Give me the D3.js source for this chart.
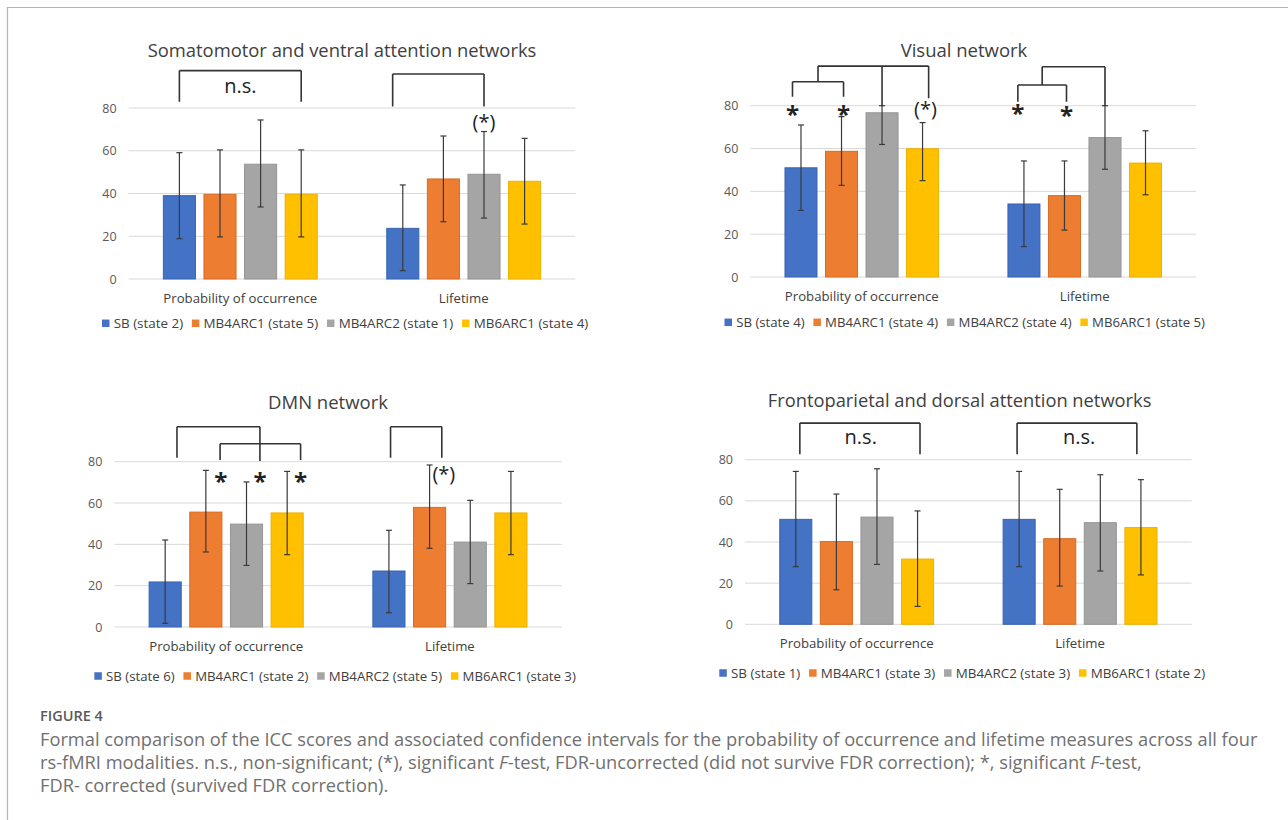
<!DOCTYPE html>
<html><head><meta charset="utf-8">
<script src="https://cdn.jsdelivr.net/npm/d3@7/dist/d3.min.js"></script>
<style>body{margin:0;background:#fff}svg{display:block}</style>
</head><body>
<svg id="chart" width="1288" height="820"></svg>
<script>
// ---------------- DATA ----------------
const categories = ["Probability of occurrence", "Lifetime"];
const yTicks = [0, 20, 40, 60, 80];
const seriesColors = ["#4472C4", "#ED7D31", "#A5A5A5", "#FFC000"];

const smTitle = "Somatomotor and ventral attention networks";
const smSeries = ["SB (state 2)", "MB4ARC1 (state 5)", "MB4ARC2 (state 1)", "MB6ARC1 (state 4)"];
const smValues = [[39, 39.6, 53.7, 39.6], [23.7, 46.8, 49, 45.7]];
const smLow    = [[18.9, 19.7, 33.7, 19.7], [3.9, 26.8, 28.5, 25.7]];
const smHigh   = [[59.1, 60.4, 74.4, 60.4], [44, 66.9, 69, 65.8]];
const smBrackets = [
  {cat: 0, legs: [[0, 82.9], [3, 82.9]], top: 97.5},
  {cat: 1, legs: [[-0.25, 80.7], [2, 80.7]], top: 95.9}
];
const smMarks = [
  {cat: 0, x: 1.5, y: 89.2, text: "n.s."},
  {cat: 1, x: 2, y: 73.1, text: "(*)"}
];

const visTitle = "Visual network";
const visSeries = ["SB (state 4)", "MB4ARC1 (state 4)", "MB4ARC2 (state 4)", "MB6ARC1 (state 5)"];
const visValues = [[51, 58.7, 76.7, 59.9], [34.1, 38, 65.1, 53.2]];
const visLow    = [[31.1, 42.8, 61.9, 45], [14.2, 21.9, 50.3, 38.4]];
const visHigh   = [[71, 74.9, 80, 72.1], [54.2, 54.2, 80, 68.3]];
const visBrackets = [
  {cat: 0, legs: [[-0.21, 84.2], [1.05, 84.2]], top: 91.2},
  {cat: 0, legs: [[0.42, 91.2], [2, 80], [3.15, 83.5]], top: 98.5},
  {cat: 1, legs: [[-0.15, 81.9], [1.05, 81.9]], top: 89.7},
  {cat: 1, legs: [[0.45, 89.7], [2, 80]], top: 98.2}
];
const visMarks = [
  {cat: 0, x: -0.21, y: 78.8, text: "*"},
  {cat: 0, x: 1.05, y: 78.8, text: "*"},
  {cat: 0, x: 3.07, y: 78, text: "(*)"},
  {cat: 1, x: -0.15, y: 78.9, text: "*"},
  {cat: 1, x: 1.05, y: 78, text: "*"}
];

const dmnTitle = "DMN network";
const dmnSeries = ["SB (state 6)", "MB4ARC1 (state 2)", "MB4ARC2 (state 5)", "MB6ARC1 (state 3)"];
const dmnValues = [[21.8, 55.6, 49.8, 55.2], [27.1, 57.9, 41.1, 55.2]];
const dmnLow    = [[1.8, 36.3, 29.8, 35], [6.9, 38.1, 21, 35]];
const dmnHigh   = [[42.1, 75.8, 70.2, 75.3], [46.8, 78.4, 61.3, 75.3]];
const dmnBrackets = [
  {cat: 0, legs: [[0.29, 81.9], [2.33, 80.3]], top: 96.9},
  {cat: 0, legs: [[1.35, 80.8], [3.33, 80.8]], top: 88.7},
  {cat: 1, legs: [[0.04, 81.9], [1.3, 81.9]], top: 96.9}
];
const dmnMarks = [
  {cat: 0, x: 1.37, y: 73.2, text: "*"},
  {cat: 0, x: 2.33, y: 73.2, text: "*"},
  {cat: 0, x: 3.33, y: 73.2, text: "*"},
  {cat: 1, x: 1.35, y: 73.6, text: "(*)"}
];

const fpTitle = "Frontoparietal and dorsal attention networks";
const fpSeries = ["SB (state 1)", "MB4ARC1 (state 3)", "MB4ARC2 (state 3)", "MB6ARC1 (state 2)"];
const fpValues = [[51, 40.2, 52.1, 31.7], [51, 41.6, 49.4, 47]];
const fpLow    = [[28, 16.8, 29.1, 8.7], [28, 18.6, 25.9, 24]];
const fpHigh   = [[74.3, 63.3, 75.6, 55.1], [74.3, 65.6, 72.7, 70.3]];
const fpBrackets = [
  {cat: 0, legs: [[0.1, 82.6], [3.06, 82.6]], top: 97.8},
  {cat: 1, legs: [[-0.05, 82.6], [2.9, 82.6]], top: 97.8}
];
const fpMarks = [
  {cat: 0, x: 1.6, y: 89.6, text: "n.s."},
  {cat: 1, x: 1.48, y: 89.6, text: "n.s."}
];

const captionLabel = "FIGURE 4";
const captionLines = [
  [["Formal comparison of the ICC scores and associated confidence intervals for the probability of occurrence and lifetime measures across all four", false]],
  [["rs-fMRI modalities. n.s., non-significant; (*), significant ", false], ["F", true], ["-test, FDR-uncorrected (did not survive FDR correction); *, significant ", false], ["F", true], ["-test,", false]],
  [["FDR- corrected (survived FDR correction).", false]]
];

// ---------------- LAYOUT ----------------
const FONT = "'Open Sans', 'Noto Sans', sans-serif";
const panels = [
  {title: smTitle, series: smSeries, values: smValues, low: smLow, high: smHigh, brackets: smBrackets, marks: smMarks,
   left: 128.6, width: 446.8, y0: 279, y80: 108, titleX: 342, titleY: 50, titleW: 389, legendCx: 345.3, legendY: 323.3, legendW: 486.6},
  {title: visTitle, series: visSeries, values: visValues, low: visLow, high: visHigh, brackets: visBrackets, marks: visMarks,
   left: 750.3, width: 445.9, y0: 277, y80: 105.7, titleX: 964, titleY: 50.7, titleW: 126.7, legendCx: 965, legendY: 322.3, legendW: 481},
  {title: dmnTitle, series: dmnSeries, values: dmnValues, low: dmnLow, high: dmnHigh, brackets: dmnBrackets, marks: dmnMarks,
   left: 114.3, width: 447.5, y0: 627, y80: 461.7, titleX: 328, titleY: 402, titleW: 120, legendCx: 335.2, legendY: 676, legendW: 481.7},
  {title: fpTitle, series: fpSeries, values: fpValues, low: fpLow, high: fpHigh, brackets: fpBrackets, marks: fpMarks,
   left: 745, width: 446.7, y0: 624.3, y80: 459.7, titleX: 959.6, titleY: 400, titleW: 384, legendCx: 962.4, legendY: 673, legendW: 486.2}
];

const ctx = document.createElement("canvas").getContext("2d");
function measure(txt, size, weight) {
  ctx.font = `${weight || 400} ${size}px "Open Sans"`;
  return ctx.measureText(txt).width;
}
function fitSize(txt, target, weight) { return 100 * target / measure(txt, 100, weight); }

const svg = d3.select("#chart");
// frame
svg.append("path").attr("d", "M7.5,820 V7.5 H1288").attr("fill", "none").attr("stroke", "#b4b4b4").attr("stroke-width", 1.2);

const catSize = fitSize(categories[0], 154);
const textCol = "#404040";

panels.forEach(p => {
  const g = svg.append("g");
  const x0 = d3.scaleBand().domain(d3.range(categories.length)).range([p.left, p.left + p.width]);
  const gfrac = 0.727;
  const bw = x0.bandwidth();
  const x1 = d3.scaleBand().domain(d3.range(p.series.length))
    .range([bw * (1 - gfrac) / 2, bw * (1 + gfrac) / 2]).paddingInner(0.21).paddingOuter(0.105);
  const y = d3.scaleLinear().domain([0, 80]).range([p.y0, p.y80]);
  const slotX = (cat, s) => x0(cat) + x1(0) + x1.bandwidth() / 2 + s * x1.step();

  // gridlines
  g.selectAll(".grid").data(yTicks).join("line")
    .attr("x1", p.left).attr("x2", p.left + p.width)
    .attr("y1", d => y(d)).attr("y2", d => y(d))
    .attr("stroke", "#d9d9d9").attr("stroke-width", 1);
  // y axis labels
  const yAxis = d3.axisLeft(y).tickValues(yTicks).tickSize(0).tickPadding(12);
  const ya = g.append("g").attr("transform", `translate(${p.left},0)`).call(yAxis);
  ya.select(".domain").remove();
  ya.selectAll("text").attr("font-family", FONT).attr("font-size", 12.5).attr("fill", "#595959");

  // bars
  const cells = [];
  p.values.forEach((row, ci) => row.forEach((v, si) => cells.push({ci, si, v, lo: p.low[ci][si], hi: p.high[ci][si]})));
  const darker = ["#3a64b0", "#d96a20", "#959595", "#ecb000"];
  g.selectAll(".bar").data(cells).join("rect")
    .attr("x", d => x0(d.ci) + x1(d.si))
    .attr("width", x1.bandwidth())
    .attr("y", d => y(d.v))
    .attr("height", d => y(0) - y(d.v))
    .attr("fill", d => seriesColors[d.si])
    .attr("stroke", d => darker[d.si]).attr("stroke-width", 1);

  // error bars
  const cap = 3;
  const eb = g.selectAll(".eb").data(cells).join("g").attr("stroke", "#3a3a3a").attr("stroke-width", 1.2);
  eb.append("line").attr("x1", d => slotX(d.ci, d.si)).attr("x2", d => slotX(d.ci, d.si))
    .attr("y1", d => y(d.lo)).attr("y2", d => y(d.hi));
  eb.append("line").attr("x1", d => slotX(d.ci, d.si) - cap).attr("x2", d => slotX(d.ci, d.si) + cap)
    .attr("y1", d => y(d.lo)).attr("y2", d => y(d.lo));
  eb.append("line").attr("x1", d => slotX(d.ci, d.si) - cap).attr("x2", d => slotX(d.ci, d.si) + cap)
    .attr("y1", d => y(d.hi)).attr("y2", d => y(d.hi));

  // brackets
  g.selectAll(".br").data(p.brackets).join("path")
    .attr("d", b => {
      const xs = b.legs.map(l => slotX(b.cat, l[0]));
      let d = `M${d3.min(xs)},${y(b.top)}H${d3.max(xs)}`;
      b.legs.forEach(l => { d += `M${slotX(b.cat, l[0])},${y(b.top)}V${y(l[1])}`; });
      return d;
    })
    .attr("fill", "none").attr("stroke", "#333").attr("stroke-width", 1.6);

  // significance marks
  g.selectAll(".mk").data(p.marks).join("text")
    .attr("x", m => slotX(m.cat, m.x))
    .attr("y", m => {
      const s = m.text === "*" ? 24 : 20;
      const off = m.text === "*" ? 0.6 : (m.text === "n.s." ? 0.22 : 0.3);
      return y(m.y) + off * s;
    })
    .attr("text-anchor", "middle")
    .attr("font-family", FONT)
    .attr("font-size", m => m.text === "*" ? 24 : 20)
    .attr("font-weight", m => m.text === "*" ? 700 : 400)
    .attr("fill", "#222")
    .attr("stroke", m => m.text === "(*)" ? "#fff" : "none")
    .attr("stroke-width", 3).attr("paint-order", "stroke")
    .text(m => m.text);

  // category labels
  g.selectAll(".cat").data(categories).join("text")
    .attr("x", (c, i) => x0(i) + bw / 2)
    .attr("y", p.y0 + 19.5 + catSize * 0.35)
    .attr("text-anchor", "middle").attr("font-family", FONT).attr("font-size", catSize)
    .attr("fill", textCol).text(c => c);

  // title
  const ts = fitSize(p.title, p.titleW);
  g.append("text").attr("x", p.titleX).attr("y", p.titleY + ts * 0.36)
    .attr("text-anchor", "middle").attr("font-family", FONT).attr("font-size", ts)
    .attr("fill", textCol).text(p.title);

  // legend
  const sw = 7.5, gapT = 4.2, gapI = 8.8;
  const textTotal = p.legendW - p.series.length * (sw + gapT) - (p.series.length - 1) * gapI;
  const ls = 100 * textTotal / d3.sum(p.series, s => measure(s, 100));
  let cx = p.legendCx - p.legendW / 2;
  p.series.forEach((s, i) => {
    g.append("rect").attr("x", cx).attr("y", p.legendY - sw / 2).attr("width", sw).attr("height", sw)
      .attr("fill", seriesColors[i]);
    g.append("text").attr("x", cx + sw + gapT).attr("y", p.legendY + ls * 0.36)
      .attr("font-family", FONT).attr("font-size", ls).attr("fill", textCol).text(s);
    cx += sw + gapT + measure(s, ls) + gapI;
  });
});

// caption
svg.append("text").attr("x", 40).attr("y", 721).attr("font-family", FONT)
  .attr("font-size", fitSize(captionLabel, 63, 600)).attr("font-weight", 600).attr("fill", "#5a5a5a").text(captionLabel);
const capSize = fitSize(captionLines[0][0][0], 1218);
captionLines.forEach((line, li) => {
  const t = svg.append("text").attr("x", 40).attr("y", 746 + li * 23)
    .attr("font-family", FONT).attr("font-size", capSize).attr("fill", "#707070");
  line.forEach(([s, it]) => t.append("tspan").attr("font-style", it ? "italic" : "normal").text(s));
});
</script>
</body></html>
